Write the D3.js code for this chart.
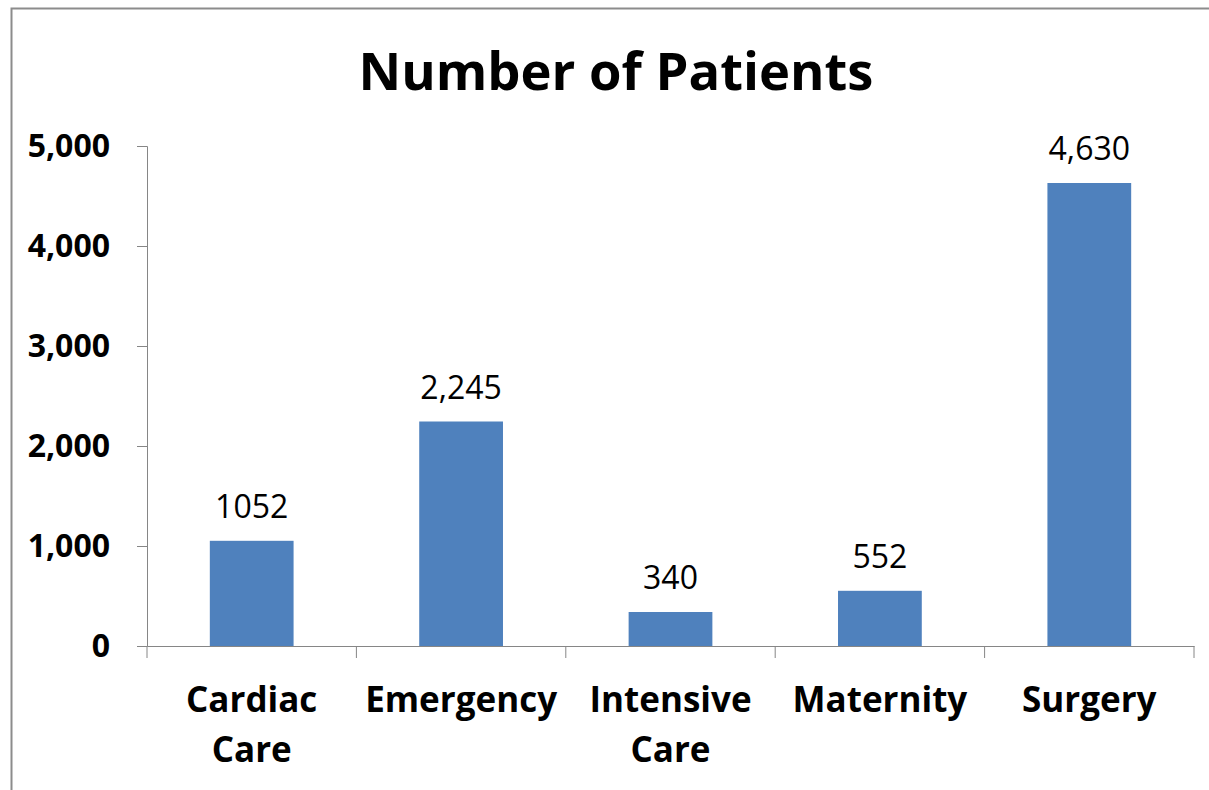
<!DOCTYPE html>
<html>
<head>
<meta charset="utf-8">
<script src="https://cdn.jsdelivr.net/npm/d3@7"></script>
<style>
  body { margin: 0; background: #fff; }
  svg { display: block; font-family: "Open Sans", sans-serif; }
  .axis path, .axis line { stroke: #868686; }
</style>
</head>
<body>
<svg id="chart"></svg>
<script>
const categories = [["Cardiac", "Care"], ["Emergency"], ["Intensive", "Care"], ["Maternity"], ["Surgery"]];
const values = [1052, 2245, 340, 552, 4630];
const valueLabels = ["1052", "2,245", "340", "552", "4,630"];
const yTicks = [0, 1000, 2000, 3000, 4000, 5000];

const width = 1209, height = 790;
const margin = { top: 146, right: 15, bottom: 144, left: 147 };

let svg = d3.select("#chart")
        .attr("width", width)
        .attr("height", height);

svg.append("rect")
        .attr("x", 11.5)
        .attr("y", 8.5)
        .attr("width", width + 20)
        .attr("height", height + 20)
        .attr("fill", "#fff")
        .attr("stroke", "#8c8c8c")
        .attr("stroke-width", 2);

let scale = {
        x: d3.scaleBand().domain(d3.range(categories.length)).range([0, width - margin.left - margin.right]).padding(0),
        y: d3.scaleLinear().domain([0, 5000]).range([height - margin.top - margin.bottom, 0]),
};

svg.append("text")
        .attr("x", 616)
        .attr("y", 90)
        .attr("text-anchor", "middle")
        .style("font-size", "52.5px")
        .style("font-weight", "bold")
        .text("Number of Patients");

let g = svg.append("g")
        .attr("transform", `translate(${margin.left}, ${margin.top})`);

let yAxis = g.append("g")
        .attr("class", "axis y")
        .call(d3.axisLeft(scale.y).tickValues(yTicks).tickFormat(d3.format(",")).tickSizeOuter(0).tickSize(10).tickPadding(27))
        .attr("font-family", null);
yAxis.selectAll("text")
        .style("font-size", "32px")
        .style("font-weight", "bold")
        .attr("fill", "#000");

let xAxis = g.append("g")
        .attr("class", "axis x")
        .attr("transform", `translate(0, ${scale.y(0)})`)
        .call(d3.axisBottom(scale.x).tickValues([]).tickSizeOuter(0))
        .attr("font-family", null);

// tick marks sit on category boundaries
xAxis.selectAll(".bound")
        .data(d3.range(categories.length + 1))
        .enter().append("line")
        .attr("class", "bound")
        .attr("x1", i => i * scale.x.step())
        .attr("x2", i => i * scale.x.step())
        .attr("y1", 0)
        .attr("y2", 12);

xAxis.selectAll(".cat")
        .data(categories)
        .enter().append("text")
        .attr("class", "cat")
        .attr("text-anchor", "middle")
        .attr("fill", "#000")
        .style("font-size", "35px")
        .style("font-weight", "bold")
        .attr("transform", (d, i) => `translate(${scale.x(i) + scale.x.bandwidth() / 2}, 0)`)
        .selectAll("tspan")
        .data(d => d)
        .enter().append("tspan")
        .attr("x", 0)
        .attr("y", (d, i) => 66 + i * 50)
        .text(d => d);

let barW = scale.x.bandwidth() * 0.4;

g.selectAll(".bar")
        .data(values)
        .enter().append("rect")
        .attr("class", "bar")
        .attr("x", (d, i) => scale.x(i) + (scale.x.bandwidth() - barW) / 2)
        .attr("y", d => scale.y(d))
        .attr("width", barW)
        .attr("height", d => scale.y(0) - scale.y(d))
        .attr("fill", "#4f81bd");

g.selectAll(".val")
        .data(values)
        .enter().append("text")
        .attr("class", "val")
        .attr("text-anchor", "middle")
        .attr("x", (d, i) => scale.x(i) + scale.x.bandwidth() / 2)
        .attr("y", d => scale.y(d) - 23)
        .style("font-size", "32px")
        .text((d, i) => valueLabels[i]);
</script>
</body>
</html>
